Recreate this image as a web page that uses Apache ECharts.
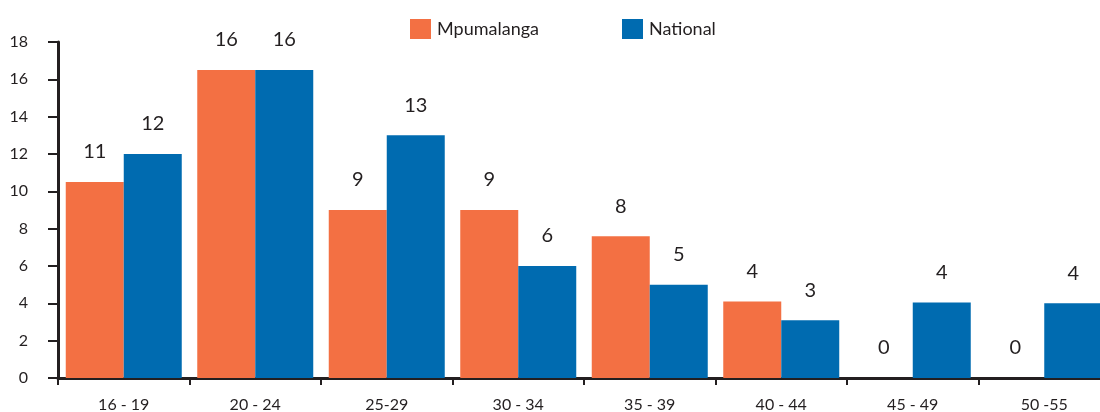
<!DOCTYPE html>
<html><head><meta charset="utf-8">
<script src="https://cdn.jsdelivr.net/npm/echarts@6/dist/echarts.min.js"></script>
<style>html,body{margin:0;padding:0;background:#fff}#c{width:1100px;height:412px}</style>
</head><body><div id="c"></div>
<script>
const categories = ['16 - 19','20 - 24','25-29','30 - 34','35 - 39','40 - 44','45 - 49','50 -55'];
const mpumalanga = [10.5, 16.5, 9, 9, 7.6, 4.1, 0, 0];
const national = [12, 16.5, 13, 6, 5, 3.1, 4.05, 4];
const mpumalangaLabels = ['11','16','9','9','8','4','0','0'];
const nationalLabels = ['12','16','13','6','5','3','4','4'];
const yTicks = {min: 0, max: 18, interval: 2};

const FONT = 'Lato';
const TXT = '#231f20';
const chart = echarts.init(document.getElementById('c'), null, {renderer: 'canvas'});
chart.setOption({
  animation: false,
  textStyle: {fontFamily: FONT},
  legend: {
    left: 405, top: 14, itemWidth: 21, itemHeight: 20, itemGap: 83,
    icon: 'rect',
    textStyle: {fontSize: 18, color: TXT, fontFamily: FONT, padding: [0, 0, 0, 1]},
    data: ['Mpumalanga', 'National']
  },
  grid: {left: 58, width: 1052, top: 42, bottom: 34, containLabel: false, outerBoundsMode: 'none'},
  xAxis: {
    type: 'category', data: categories,
    axisLine: {lineStyle: {color: TXT, width: 3}},
    axisTick: {show: true, length: 7, lineStyle: {color: TXT, width: 2}},
    axisLabel: {fontSize: 16, color: TXT, margin: 19, fontFamily: FONT}
  },
  yAxis: {
    type: 'value', min: yTicks.min, max: yTicks.max, interval: yTicks.interval,
    splitLine: {show: false},
    axisLine: {show: true, lineStyle: {color: TXT, width: 3}},
    axisTick: {show: true, length: 10, lineStyle: {color: TXT, width: 2}},
    axisLabel: {fontSize: 16, color: TXT, margin: 30, fontFamily: FONT}
  },
  series: [
    {
      name: 'Mpumalanga', type: 'bar', data: mpumalanga, barWidth: 58, barGap: '0%',
      itemStyle: {color: '#F37043'},
      label: {show: true, position: 'top', distance: 20, fontSize: 20, color: TXT, fontFamily: FONT,
        formatter: p => mpumalangaLabels[p.dataIndex]}
    },
    {
      name: 'National', type: 'bar', data: national, barWidth: 58, barGap: '0%',
      itemStyle: {color: '#006BB0'},
      label: {show: true, position: 'top', distance: 20, fontSize: 20, color: TXT, fontFamily: FONT,
        formatter: p => nationalLabels[p.dataIndex]}
    }
  ]
});
</script></body></html>
